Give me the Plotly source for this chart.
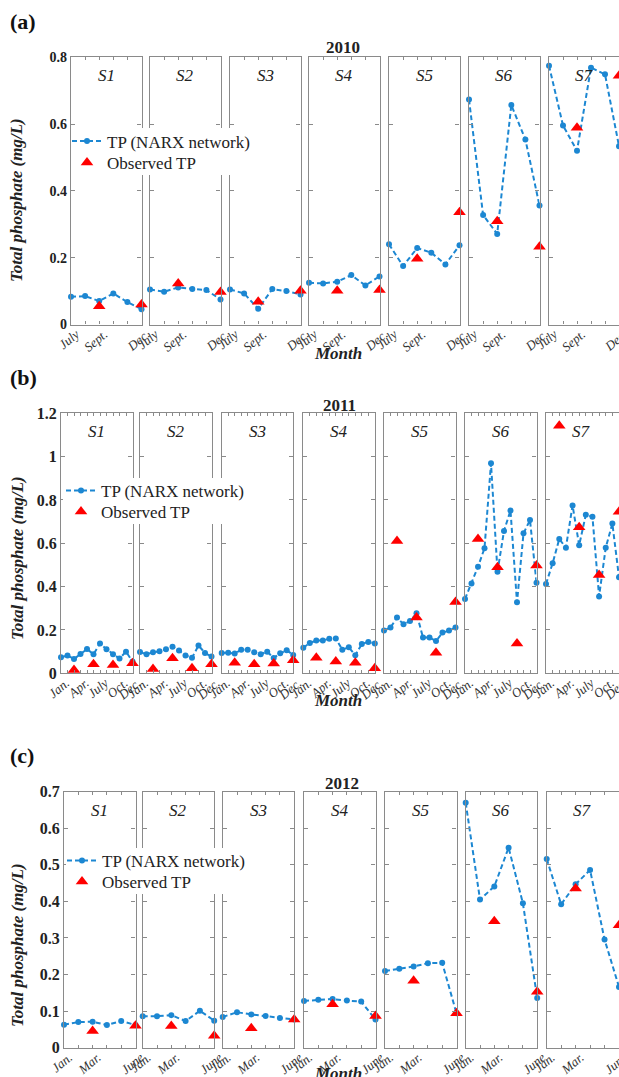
import plotly.graph_objects as go

# ---------------- data ----------------
stations = ["S1", "S2", "S3", "S4", "S5", "S6", "S7"]

months_2010 = ["July", "Aug.", "Sept.", "Oct.", "Nov.", "Dec."]
labels_2010 = ["July", "", "Sept.", "", "", "Dec."]
obs_months_2010 = ["Sept.", "Dec."]
tp_2010 = [
    [0.083, 0.085, 0.070, 0.093, 0.067, 0.046],
    [0.105, 0.098, 0.111, 0.106, 0.103, 0.075],
    [0.105, 0.093, 0.047, 0.106, 0.100, 0.090],
    [0.125, 0.123, 0.128, 0.148, 0.117, 0.144],
    [0.240, 0.175, 0.229, 0.215, 0.180, 0.237],
    [0.674, 0.328, 0.271, 0.657, 0.554, 0.356],
    [0.775, 0.596, 0.520, 0.769, 0.749, 0.534],
]
obs_2010 = [
    [0.055, 0.060], [0.123, 0.097], [0.068, 0.101], [0.101, 0.103],
    [0.197, 0.336], [0.309, 0.233], [0.589, 0.745],
]

months_2011 = ["Jan.", "Feb.", "Mar.", "Apr.", "May", "June",
               "July", "Aug.", "Sept.", "Oct.", "Nov.", "Dec."]
labels_2011 = ["Jan.", "", "", "Apr.", "", "", "July", "", "", "Oct.", "", "Dec."]
obs_months_2011 = ["Mar.", "June", "Sept.", "Dec."]
tp_2011 = [
    [0.074, 0.082, 0.066, 0.089, 0.112, 0.088, 0.138, 0.111, 0.088, 0.068, 0.100, 0.054],
    [0.098, 0.088, 0.097, 0.102, 0.111, 0.123, 0.105, 0.082, 0.072, 0.128, 0.094, 0.077],
    [0.094, 0.095, 0.091, 0.109, 0.109, 0.097, 0.088, 0.100, 0.071, 0.092, 0.106, 0.085],
    [0.118, 0.140, 0.151, 0.151, 0.160, 0.161, 0.109, 0.120, 0.083, 0.135, 0.145, 0.138],
    [0.197, 0.211, 0.258, 0.226, 0.241, 0.277, 0.165, 0.165, 0.149, 0.188, 0.197, 0.211],
    [0.343, 0.414, 0.492, 0.577, 0.969, 0.469, 0.657, 0.751, 0.328, 0.646, 0.707, 0.418],
    [0.412, 0.508, 0.620, 0.580, 0.775, 0.591, 0.732, 0.723, 0.355, 0.580, 0.691, 0.443],
]
obs_2011 = [
    [0.015, 0.042, 0.038, 0.046],
    [0.020, 0.069, 0.023, 0.042],
    [0.049, 0.042, 0.045, 0.060],
    [0.072, 0.054, 0.049, 0.023],
    [0.611, 0.257, 0.095, 0.329],
    [0.620, 0.489, 0.137, 0.497],
    [1.143, 0.674, 0.454, 0.746],
]

months_2012 = ["Jan.", "Feb.", "Mar.", "Apr.", "May", "June"]
labels_2012 = ["Jan.", "", "Mar.", "", "", "June"]
obs_months_2012 = ["Mar.", "June"]
tp_2012 = [
    [0.063, 0.070, 0.071, 0.062, 0.073, 0.062],
    [0.086, 0.086, 0.089, 0.073, 0.101, 0.074],
    [0.084, 0.097, 0.091, 0.087, 0.081, 0.077],
    [0.128, 0.131, 0.133, 0.129, 0.126, 0.077],
    [0.210, 0.216, 0.222, 0.231, 0.232, 0.094],
    [0.670, 0.405, 0.441, 0.547, 0.395, 0.136],
    [0.516, 0.392, 0.447, 0.486, 0.296, 0.166],
]
obs_2012 = [
    [0.046, 0.060], [0.059, 0.033], [0.053, 0.077], [0.119, 0.087],
    [0.183, 0.094], [0.346, 0.153], [0.435, 0.335],
]

years = ["2010", "2011", "2012"]
panel_tags = ["(a)", "(b)", "(c)"]

# ---------------- layout helpers ----------------
W, H = 619, 1077
def fx(p): return p / W
def fy(p): return 1 - p / H

SERIF = "Liberation Serif"
BLUE = "#1c87d2"
RED = "#ff0000"
GRID = "#8a8a8a"

rows = [
    dict(months=months_2010, labels=labels_2010, obsm=obs_months_2010, tp=tp_2010, obs=obs_2010,
         top=57.3, bot=324.5, yr=[0, 0.8], dtick=0.2, yfs=14,
         starts=[71, 150, 230, 309, 389, 469, 549], width=70.5,
         year_xy=(343, 48), tag_y=21, ytitle_y=200, month_y=353, stitle_y=76,
         leg_x=67, leg_y=(141.5, 163), rect=(73, 128, 256, 175)),
    dict(months=months_2011, labels=labels_2011, obsm=obs_months_2011, tp=tp_2011, obs=obs_2011,
         top=413.3, bot=673.3, yr=[0, 1.2], dtick=0.2, yfs=16,
         starts=[61, 140, 221.7, 303.3, 384, 465, 546], width=71.5,
         year_xy=(339, 405), tag_y=377, ytitle_y=558, month_y=700, stitle_y=431,
         leg_x=61, leg_y=(491, 512), rect=(63, 478, 250, 524)),
    dict(months=months_2012, labels=labels_2012, obsm=obs_months_2012, tp=tp_2012, obs=obs_2012,
         top=791.7, bot=1047.7, yr=[0, 0.7], dtick=0.1, yfs=16,
         starts=[64, 142.7, 222.7, 304, 385, 465.7, 546.7], width=71.5,
         year_xy=(342, 783), tag_y=755, ytitle_y=945, month_y=1073, stitle_y=810,
         leg_x=62, leg_y=(861, 882), rect=(66, 848, 251, 894)),
]

fig = go.Figure()
layout = dict(
    template="none",
    width=W, height=H, margin=dict(l=0, r=0, t=0, b=0, pad=0, autoexpand=False),
    paper_bgcolor="white", plot_bgcolor="white",
    font=dict(family=SERIF, color="#222"),
    showlegend=True,
)
annotations = []
shapes = []

def legkey(n):
    return "legend" if n == 1 else f"legend{n}"

for i, r in enumerate(rows):
    leg_tp = legkey(2 * i + 1)
    leg_obs = legkey(2 * i + 2)
    n = len(r["months"])
    for j in range(7):
        k = i * 7 + j + 1
        xname = "xaxis" if k == 1 else f"xaxis{k}"
        yname = "yaxis" if k == 1 else f"yaxis{k}"
        xref = "x" if k == 1 else f"x{k}"
        yref = "y" if k == 1 else f"y{k}"
        x0 = r["starts"][j]
        x1 = min(x0 + r["width"], 619) if j < 6 else 619
        layout[xname] = dict(
            domain=[fx(x0), fx(x1)], anchor=yref, type="category", automargin=False,
            range=[0, n - 1], showgrid=False, zeroline=False,
            showline=True, linecolor=GRID, linewidth=1.3, mirror="ticks",
            ticks="inside", ticklen=3, tickcolor=GRID,
            tickmode="array", tickvals=r["months"], ticktext=r["labels"],
            tickangle=-40, ticklabelstandoff=-4, ticklabelshift=5,
            tickfont=dict(family=SERIF, size=13, style="italic", color="#333"),
            fixedrange=True,
        )
        layout[yname] = dict(
            domain=[fy(r["bot"]), fy(r["top"])], anchor=xref, automargin=False,
            range=r["yr"], dtick=r["dtick"], tick0=0, showgrid=False, zeroline=False,
            showline=True, linecolor=GRID, linewidth=1.3,
            mirror="ticks" if j < 6 else False,
            ticks="inside", ticklen=4, tickcolor=GRID,
            showticklabels=(j == 0),
            tickfont=dict(family=SERIF, size=r["yfs"], weight="bold", color="#222"),
            fixedrange=True,
        )
        fig.add_trace(go.Scatter(
            x=r["months"], y=r["tp"][j], xaxis=xref, yaxis=yref,
            mode="lines+markers", name="TP (NARX network)",
            line=dict(color=BLUE, width=2, dash="5px,3px"),
            marker=dict(symbol="circle", size=6, color=BLUE),
            cliponaxis=False, legend=leg_tp, showlegend=(j == 0),
        ))
        fig.add_trace(go.Scatter(
            x=r["obsm"], y=r["obs"][j], xaxis=xref, yaxis=yref,
            mode="markers", name="Observed TP",
            marker=dict(symbol="triangle-up", size=11, color=RED),
            cliponaxis=False, legend=leg_obs, showlegend=(j == 0),
        ))
        annotations.append(dict(
            x=fx((x0 + x1) / 2 if j < 6 else x0 + r["width"] / 2), y=fy(r["stitle_y"]),
            xref="paper", yref="paper", text=stations[j], showarrow=False,
            font=dict(family=SERIF, size=17, style="italic", color="#222"),
            xanchor="center", yanchor="middle",
        ))
    # legends (one entry each)
    for lk, ly in ((leg_tp, r["leg_y"][0]), (leg_obs, r["leg_y"][1])):
        layout[lk] = dict(
            x=fx(r["leg_x"]), y=fy(ly), xanchor="left", yanchor="middle",
            xref="paper", yref="paper",
            bgcolor="rgba(0,0,0,0)", borderwidth=0, itemwidth=30,
            font=dict(family=SERIF, size=17, color="#222"),
        )
    rx0, ry0, rx1, ry1 = r["rect"]
    shapes.append(dict(type="rect", xref="paper", yref="paper",
                       x0=fx(rx0), x1=fx(rx1), y0=fy(ry1), y1=fy(ry0),
                       fillcolor="white", line=dict(width=0), layer="above"))
    # titles
    annotations.append(dict(
        x=fx(r["year_xy"][0]), y=fy(r["year_xy"][1]), xref="paper", yref="paper",
        text=years[i], showarrow=False, xanchor="center", yanchor="middle",
        font=dict(family=SERIF, size=17, weight="bold", color="#222")))
    annotations.append(dict(
        x=fx(8), y=fy(r["tag_y"]), xref="paper", yref="paper",
        text=panel_tags[i], showarrow=False, xanchor="left", yanchor="middle",
        font=dict(family=SERIF, size=22, weight="bold", color="#111")))
    annotations.append(dict(
        x=fx(17), y=fy(r["ytitle_y"]), xref="paper", yref="paper",
        text="Total phosphate (mg/L)", showarrow=False, textangle=-90,
        xanchor="center", yanchor="middle",
        font=dict(family=SERIF, size=17, weight="bold", style="italic", color="#222")))
    annotations.append(dict(
        x=fx(338), y=fy(r["month_y"]), xref="paper", yref="paper",
        text="Month", showarrow=False, xanchor="center", yanchor="middle",
        font=dict(family=SERIF, size=17, weight="bold", style="italic", color="#222")))

layout["annotations"] = annotations
layout["shapes"] = shapes
fig.update_layout(**layout)
fig.write_html("out.html")
